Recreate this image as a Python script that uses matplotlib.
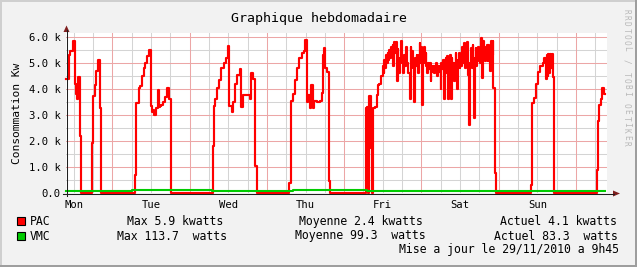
import matplotlib
matplotlib.use("Agg")
import matplotlib.pyplot as plt
from matplotlib.patches import Rectangle, Polygon
from matplotlib.lines import Line2D

W, H = 637, 267

# PAC power (kW), hours counted from Mon 22/11 00:00
pac_hours = [
    9.75, 10.46, 10.99, 11.82, 12.53, 12.8, 13.0, 13.37, 13.86, 14.30,
    17.70, 18.01, 18.50, 18.94, 19.43, 20.05, 20.48,
    30.99, 31.4, 32.23, 32.64, 33.26, 33.78, 34.28, 34.8, 35.42, 35.95,
    36.3, 36.66, 37.1, 37.59, 38.2, 38.5, 38.73, 39.22, 39.7, 40.28,
    41.08, 41.51, 42.13,
    55.12, 55.43, 55.93, 56.45, 57.16, 57.9, 58.71, 59.45, 59.95, 60.38,
    61.09, 61.62, 62.11, 62.85, 63.56, 63.97, 64.59, 66.75, 67.19, 67.68,
    68.2, 68.42, 68.82,
    79.03, 79.43, 80.05, 80.79, 81.29, 82.12, 82.83, 83.57, 83.98, 84.38,
    84.91, 85.43, 85.74, 86.24, 86.67, 87.47, 88.52, 89.02, 89.33, 89.64,
    90.07, 90.78, 91.18, 91.62,
    102.84, 103.15, 103.55, 103.86, 104.39, 104.70, 105.10, 105.72, 106.15,
    106.46, 106.96, 107.48, 108.01, 108.3, 108.50, 108.8, 109.05, 109.25,
    109.5, 109.74, 110.0, 110.36, 110.6, 110.88, 111.1, 111.3, 111.55,
    111.81, 112.05, 112.3, 112.65, 112.85,
    113.05, 113.35, 113.58, 113.9, 114.29, 114.6, 114.91, 115.31, 115.6,
    115.93, 116.36, 116.67, 116.9, 117.16, 117.45, 117.69, 117.95, 118.22,
    118.5, 118.71, 119.02, 119.25, 119.45, 119.65, 119.85, 120.05, 120.26,
    120.5, 120.78, 121.05, 121.31, 121.55, 121.80, 122.05, 122.33, 122.6,
    122.85, 123.1, 123.35, 123.6, 123.87, 124.15, 124.40, 124.65, 124.90,
    125.15, 125.42, 125.7, 125.95, 126.2, 126.44, 126.7, 126.97, 127.25,
    127.49, 127.75, 127.99, 128.30, 128.5, 128.73, 129.04, 129.35, 129.55,
    129.75, 130.06, 130.3, 130.59, 130.85, 131.08, 131.35, 131.61, 131.85,
    132.13, 132.4, 132.63, 132.9, 133.15, 133.4, 133.68, 133.9, 134.17,
    134.4, 134.61, 134.92, 135.15, 135.41, 135.7, 135.94, 136.15, 136.34,
    136.6, 136.86, 137.1, 137.39, 137.65, 137.89, 138.15, 138.41, 138.7,
    138.94, 139.25, 139.5, 139.74, 140.0, 140.27, 140.58, 140.8, 140.98,
    141.15, 141.29, 141.6, 141.9, 142.12, 142.34, 142.83, 143.27,
    153.87, 154.40, 155.02, 155.64, 156.35, 156.97, 157.68, 158.20, 158.61,
    158.91, 159.22, 159.44, 159.7, 160.0, 160.3, 160.5, 160.77, 161.08,
    174.38, 174.81, 175.21, 175.74, 176.05, 176.55, 177.0,
]
pac_kw = [
    4.4, 5.3, 5.45, 5.83, 4.2, 3.8, 3.6, 4.45, 2.18, 0.0,
    1.92, 3.72, 4.17, 4.68, 5.13, 3.27, 0.0,
    0.7, 3.46, 4.04, 4.1, 4.5, 4.8, 5.0, 5.26, 5.51, 3.33,
    3.1, 3.2, 3.0, 3.25, 3.95, 3.3, 3.35, 3.4, 3.5, 3.7,
    4.05, 3.6, 0.0,
    1.8, 3.33, 3.6, 4.04, 4.36, 4.8, 5.0, 5.19, 5.64, 3.33,
    3.1, 3.5, 4.2, 4.55, 4.75, 3.3, 3.75, 3.6, 4.6, 4.4,
    3.4, 1.03, 0.0,
    0.4, 3.53, 3.8, 4.35, 4.8, 5.2, 5.4, 5.45, 5.9, 3.5,
    3.75, 3.25, 4.15, 3.25, 3.55, 3.5, 3.55, 3.85, 5.3, 5.58,
    4.8, 4.65, 0.45, 0.0,
    3.27, 3.3, 0.0, 3.72, 1.73, 0.0, 3.27, 3.3, 3.75,
    4.15, 4.2, 4.5, 4.9, 4.6, 5.1, 4.8, 5.3, 5.0,
    5.4, 5.1, 5.5, 5.2, 5.6, 5.3, 5.7, 4.9, 5.8,
    5.4, 5.8, 4.3, 5.55, 5.0,
    4.6, 5.2, 5.85, 5.0, 4.6, 5.3, 4.9, 5.6, 5.0,
    4.6, 3.6, 5.6, 5.0, 5.45, 4.8, 3.5, 5.2, 4.9,
    5.3, 4.9, 4.6, 5.3, 5.75, 5.0, 5.6, 4.7, 3.4,
    5.0, 5.6, 5.0, 5.4, 4.9, 4.6, 5.0, 4.75, 5.0,
    4.3, 4.9, 4.65, 4.9, 4.6, 4.9, 4.75, 5.0, 4.5,
    4.9, 4.65, 4.9, 4.0, 5.0, 4.75, 5.1, 3.6, 5.0,
    5.2, 4.6, 5.25, 3.6, 4.9, 5.3, 3.6, 5.2, 4.5,
    5.0, 4.3, 5.0, 5.4, 4.8, 4.0, 5.1, 5.4, 4.8,
    5.3, 4.9, 5.6, 5.0, 5.75, 5.1, 4.8, 5.4, 5.8,
    5.0, 4.55, 2.63, 5.0, 5.58, 4.8, 5.7, 5.0, 2.9,
    5.2, 5.58, 4.9, 5.06, 5.6, 5.32, 5.0, 5.95, 5.2,
    4.42, 5.83, 5.2, 5.06, 5.6, 5.7, 5.06, 5.7, 5.58,
    5.0, 4.68, 5.83, 5.3, 5.83, 4.04, 0.77, 0.0,
    0.3, 3.46, 3.65, 4.2, 4.65, 4.9, 5.0, 5.2, 4.4,
    5.3, 4.5, 5.35, 4.6, 5.35, 4.8, 5.35, 4.45, 0.0,
    0.9, 2.76, 3.4, 3.6, 4.05, 3.8, 3.8,
]

# VMC power (W)
vmc_hours = [9.75, 30.0, 55.0, 80.0, 103.0, 130.0, 155.0, 170.0, 177.0]
vmc_watts = [96, 98, 95, 97, 94, 96, 95, 93, 90]

day_labels = ["Mon", "Tue", "Wed", "Thu", "Fri", "Sat", "Sun"]
day_centers = [12, 36, 60, 84, 108, 132, 156]
y_ticks = [0, 1, 2, 3, 4, 5, 6]
y_tick_labels = ["0.0", "1.0 k", "2.0 k", "3.0 k", "4.0 k", "5.0 k", "6.0 k"]

title = "Graphique hebdomadaire"
y_label = "Consommation Kw"
series_names = ["PAC", "VMC"]
max_texts = ["Max 5.9 kwatts", "Max 113.7  watts"]
avg_texts = ["Moyenne 2.4 kwatts", "Moyenne 99.3  watts"]
last_texts = ["Actuel 4.1 kwatts", "Actuel 83.3  watts"]
update_text = "Mise a jour le 29/11/2010 a 9h45"
watermark = "RRDTOOL / TOBI OETIKER"

RED = "#ff0000"
GREEN = "#00cc00"
MONO = "DejaVu Sans Mono"


def fx(px):
    return px / W


def fy(py):
    return 1 - py / H


fig = plt.figure(figsize=(W / 100, H / 100), dpi=100, facecolor="#f2f2f2")

# frame shading
fig.add_artist(Rectangle((0, fy(2)), 1, 2 / H, transform=fig.transFigure,
                         color="#cfcfcf", lw=0))
fig.add_artist(Rectangle((0, 0), 2 / W, 1, transform=fig.transFigure,
                         color="#cfcfcf", lw=0))
fig.add_artist(Rectangle((0, 0), 1, 2 / H, transform=fig.transFigure,
                         color="#9e9e9e", lw=0))
fig.add_artist(Rectangle((fx(W - 2), 0), 2 / W, 1, transform=fig.transFigure,
                         color="#9e9e9e", lw=0))

left, right, top, bottom = 66.4, 607.4, 32.5, 193
ax = fig.add_axes([fx(left), fy(bottom), (right - left) / W, (bottom - top) / H])
ax.set_facecolor("white")
ax.set_xlim(9.75, 177.75)
ax.set_ylim(0, 6.17)
for s in ax.spines.values():
    s.set_visible(False)

# grid
for h in range(12, 178, 6):
    if h % 24 == 0:
        ax.axvline(h, color="#eca6a6", lw=0.75, zorder=1)
    else:
        ax.axvline(h, color="#d4d4d4", lw=0.75, zorder=0.5)
for v in [0.5, 1, 1.5, 2, 2.5, 3, 3.5, 4, 4.5, 5, 5.5, 6]:
    if v == int(v):
        ax.axhline(v, color="#eca6a6", lw=0.75, zorder=1)
    else:
        ax.axhline(v, color="#d4d4d4", lw=0.75, zorder=0.5)

ax.plot(pac_hours, pac_kw, drawstyle="steps-post", color=RED, lw=1.55,
        zorder=3, clip_on=False)
ax.plot(vmc_hours, [w / 1000 for w in vmc_watts], drawstyle="steps-post",
        color=GREEN, lw=1.5, zorder=4, clip_on=False)

ax.set_yticks(y_ticks)
ax.set_yticklabels(y_tick_labels, fontfamily=MONO, fontsize=7.6)
ax.set_xticks(day_centers)
ax.set_xticklabels(day_labels, fontfamily=MONO, fontsize=7.6)
ax.tick_params(axis="y", length=0, pad=4.3)
ax.tick_params(axis="x", length=0, pad=5.0)

# axes lines with arrows
fig.add_artist(Line2D([fx(63), fx(614)], [fy(193.5), fy(193.5)],
                      color="#1f1f1f", lw=0.75))
fig.add_artist(Line2D([fx(66.5), fx(66.5)], [fy(196), fy(30)],
                      color="#1f1f1f", lw=0.75))
fig.add_artist(Polygon([(fx(613), fy(190.5)), (fx(620), fy(193.5)),
                        (fx(613), fy(196.5))], closed=True,
                       transform=fig.transFigure, color="#7f1f1f", lw=0))
fig.add_artist(Polygon([(fx(63.5), fy(32)), (fx(66.5), fy(25.5)),
                        (fx(69.5), fy(32))], closed=True,
                       transform=fig.transFigure, color="#7f1f1f", lw=0))

fig.text(fx(318.8), fy(21.7), title, fontfamily=MONO, fontsize=9.5,
         ha="center", va="baseline")
fig.text(fx(17), fy(113), y_label, fontfamily=MONO, fontsize=8.1,
         rotation=90, ha="center", va="center")

# spaced vertical watermark, one glyph at a time
for i, ch in enumerate(watermark):
    fig.text(fx(626.5), fy(11 + i * 6.3), ch, fontfamily=MONO, fontsize=5.6,
             rotation=270, ha="center", va="center", color="#b8b8b8")

# legend
row_base = [225.2, 239.5]
for i, col in enumerate([RED, GREEN]):
    fig.add_artist(Rectangle((fx(16.5), fy(row_base[i])), 8 / W, 8 / H,
                             transform=fig.transFigure, facecolor=col,
                             edgecolor="black", lw=0.8))
    fig.text(fx(30), fy(row_base[i]), series_names[i], fontfamily=MONO,
             fontsize=8.3, va="baseline")
max_x = [126.7, 117.3]
avg_x = [299.0, 294.8]
last_x = [500.0, 494.0]
for i in range(2):
    fig.text(fx(max_x[i]), fy(row_base[i]), max_texts[i], fontfamily=MONO,
             fontsize=8.3, va="baseline")
    fig.text(fx(avg_x[i]), fy(row_base[i]), avg_texts[i], fontfamily=MONO,
             fontsize=8.3, va="baseline")
    fig.text(fx(last_x[i]), fy(row_base[i]), last_texts[i], fontfamily=MONO,
             fontsize=8.3, va="baseline")
fig.text(fx(398.5), fy(253), update_text, fontfamily=MONO, fontsize=8.3,
         va="baseline")

fig.savefig("out.png", dpi=100, facecolor=fig.get_facecolor())
